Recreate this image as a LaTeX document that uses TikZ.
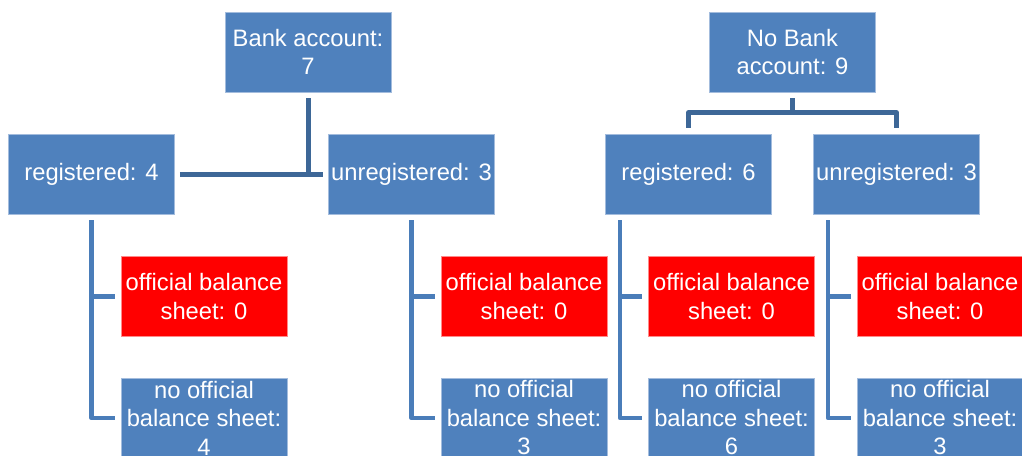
\documentclass[tikz,border=0pt]{standalone}
\usepackage{fontspec}
\setmainfont{Liberation Sans}
\definecolor{boxblue}{HTML}{4F81BD}
\definecolor{boxblueedge}{HTML}{A3BCDD}
\definecolor{boxred}{HTML}{FF0000}
\definecolor{boxrededge}{HTML}{FF8A8A}
\definecolor{topline}{HTML}{3D6797}
\definecolor{subline}{HTML}{4A7DB9}
\tikzset{
  bluebox/.style={rectangle, fill=boxblue, draw=boxblueedge, line width=0.8pt,
    minimum width=166pt, minimum height=80pt, inner sep=0pt, align=center,
    text=white, font=\fontsize{23.75}{28.5}\selectfont},
  redbox/.style={bluebox, fill=boxred, draw=boxrededge},
  topconn/.style={draw=topline, line width=5pt, line join=round},
  subconn/.style={draw=subline, line width=4.5pt, line join=round}
}
\begin{document}
\begin{tikzpicture}[x=1pt,y=-1pt]
\clip (0,0) rectangle (1022,455);
\useasboundingbox (0,0) rectangle (1022,455);
% level 1
\node[bluebox] (BA) at (308,52) {Bank account:\\7};
\node[bluebox] (NBA) at (792.5,52) {No Bank\\account: 9};
% level 2
\node[bluebox] (R4) at (91.5,174) {registered: 4};
\node[bluebox] (U3a) at (411.5,174) {unregistered: 3};
\node[bluebox] (R6) at (688.5,174) {registered: 6};
\node[bluebox] (U3b) at (896.5,174) {unregistered: 3};
% level 3
\node[redbox] (O1) at (204,296.5) {official balance\\sheet: 0};
\node[redbox] (O2) at (524,296.5) {official balance\\sheet: 0};
\node[redbox] (O3) at (731.5,296.5) {official balance\\sheet: 0};
\node[redbox] (O4) at (940,296.5) {official balance\\sheet: 0};
\node[bluebox] (N1) at (204,418) {no official\\balance sheet:\\4};
\node[bluebox] (N2) at (524,418) {no official\\balance sheet:\\3};
\node[bluebox] (N3) at (731.5,418) {no official\\balance sheet:\\6};
\node[bluebox] (N4) at (940,418) {no official\\balance sheet:\\3};
% top connectors, left tree
\draw[topconn] ([yshift=-6pt]BA.south) -- (BA.south |- R4.east);
\draw[topconn] ([xshift=5pt]R4.east) -- ([xshift=-5pt]U3a.west);
% top connectors, right tree
\draw[topconn] ([yshift=-6pt]NBA.south) -- ([yshift=-21pt]NBA.south);
\draw[topconn] ([yshift=6pt]R6.north) -- ([yshift=21pt]R6.north)
  -- ([yshift=21pt]U3b.north) -- ([yshift=6pt]U3b.north);
% sub brackets
\draw[subconn] ([yshift=-6pt]R4.south) -- (R4.south |- N1.west) -- ([xshift=-6pt]N1.west);
\draw[subconn] (R4.south |- O1.west) -- ([xshift=-6pt]O1.west);
\draw[subconn] ([yshift=-6pt]U3a.south) -- (U3a.south |- N2.west) -- ([xshift=-6pt]N2.west);
\draw[subconn] (U3a.south |- O2.west) -- ([xshift=-6pt]O2.west);
\draw[subconn] ([xshift=15pt,yshift=-6pt]R6.south west) coordinate (c3)
  -- (c3 |- N3.west) -- ([xshift=-6pt]N3.west);
\draw[subconn] (c3 |- O3.west) -- ([xshift=-6pt]O3.west);
\draw[subconn] ([xshift=15pt,yshift=-6pt]U3b.south west) coordinate (c4)
  -- (c4 |- N4.west) -- ([xshift=-6pt]N4.west);
\draw[subconn] (c4 |- O4.west) -- ([xshift=-6pt]O4.west);
\end{tikzpicture}
\end{document}
